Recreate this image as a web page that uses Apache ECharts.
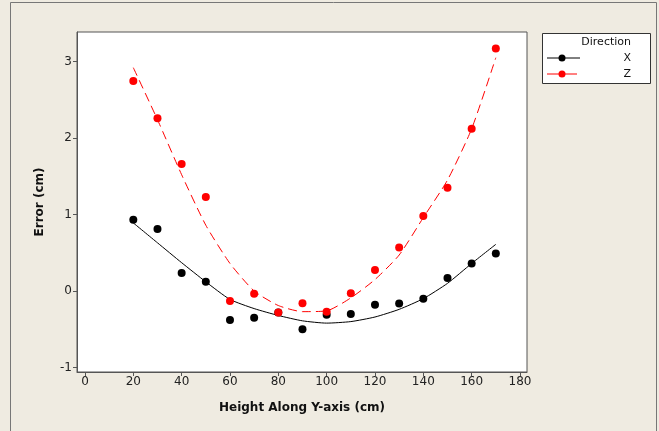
<!DOCTYPE html>
<html>
<head>
<meta charset="utf-8">
<script src="https://cdn.jsdelivr.net/npm/echarts@6/dist/echarts.min.js"></script>
<style>
html, body { margin: 0; padding: 0; background: #efebe1; }
#main { width: 659px; height: 431px; }
</style>
</head>
<body>
<div id="main"></div>
<script>
// heights along Y axis (cm)
var heights = [20, 30, 40, 50, 60, 70, 80, 90, 100, 110, 120, 130, 140, 150, 160, 170];
// measured error, direction X and Z
var errX = [0.93, 0.81, 0.235, 0.12, -0.38, -0.35, -0.28, -0.50, -0.31, -0.30, -0.18, -0.165, -0.10, 0.17, 0.36, 0.49];
var errZ = [2.745, 2.26, 1.66, 1.23, -0.13, -0.035, -0.28, -0.16, -0.27, -0.03, 0.275, 0.57, 0.98, 1.35, 2.12, 3.17];
// fitted lines
var fitX = [0.89, 0.63, 0.37, 0.12, -0.11, -0.23, -0.32, -0.39, -0.42, -0.40, -0.34, -0.24, -0.10, 0.10, 0.36, 0.61];
var fitZ = [2.92, 2.24, 1.52, 0.86, 0.36, 0.0, -0.19, -0.27, -0.26, -0.09, 0.15, 0.47, 0.96, 1.45, 2.12, 3.05];
// tick labels
var xTicks = [0, 20, 40, 60, 80, 100, 120, 140, 160, 180];
var yTicks = [-1, 0, 1, 2, 3];

function pairs(xs, ys) {
    return xs.map(function (x, i) { return [x, ys[i]]; });
}

var font = 'DejaVu Sans';

var option = {
    backgroundColor: '#efebe1',
    animation: false,
    grid: {
        left: 77, top: 32, right: 132, bottom: 59,
        show: true, backgroundColor: '#ffffff', borderColor: '#555555', borderWidth: 1
    },
    xAxis: {
        type: 'value', min: -3.3, max: 182.9,
        name: 'Height Along Y-axis (cm)', nameLocation: 'middle', nameGap: 30,
        nameTextStyle: { fontFamily: font, fontWeight: 'bold', fontSize: 12, color: '#111' },
        axisLine: { show: true, onZero: false, lineStyle: { color: '#555555' } },
        axisTick: { show: true, length: 4, customValues: xTicks, lineStyle: { color: '#555555' } },
        axisLabel: { customValues: xTicks, fontFamily: font, fontSize: 12, color: '#222', margin: 4 },
        splitLine: { show: false }
    },
    yAxis: {
        type: 'value', min: -1.059, max: 3.386,
        name: 'Error (cm)', nameLocation: 'middle', nameGap: 31, nameRotate: 90,
        nameTextStyle: { fontFamily: font, fontWeight: 'bold', fontSize: 12, color: '#111' },
        axisLine: { show: true, onZero: false, lineStyle: { color: '#555555' } },
        axisTick: { show: true, length: 4, customValues: yTicks, lineStyle: { color: '#555555' } },
        axisLabel: { customValues: yTicks, fontFamily: font, fontSize: 12, color: '#222', margin: 5 },
        splitLine: { show: false }
    },
    series: [
        {
            name: 'X fit', type: 'line', data: pairs(heights, fitX), showSymbol: false, smooth: 0.2,
            lineStyle: { color: '#000000', width: 1 }, z: 2
        },
        {
            name: 'Z fit', type: 'line', data: pairs(heights, fitZ), showSymbol: false, smooth: 0.2,
            lineStyle: { color: '#ff0000', width: 1, type: [9, 5] }, z: 2
        },
        {
            name: 'X', type: 'scatter', data: pairs(heights, errX), symbol: 'circle', symbolSize: 8,
            itemStyle: { color: '#000000', opacity: 1 }, z: 3
        },
        {
            name: 'Z', type: 'scatter', data: pairs(heights, errZ), symbol: 'circle', symbolSize: 8,
            itemStyle: { color: '#ff0000', opacity: 1 }, z: 4
        }
    ],
    graphic: [
        { type: 'rect', shape: { x: 10.5, y: 2.5, width: 646, height: 440 }, style: { fill: 'none', stroke: '#777777', lineWidth: 1 } },
        { type: 'rect', shape: { x: 542.5, y: 33.5, width: 108, height: 50 }, style: { fill: '#ffffff', stroke: '#333333', lineWidth: 1 } },
        { type: 'text', x: 631, y: 42, style: { text: 'Direction', font: '11px "DejaVu Sans"', fill: '#111', align: 'right', verticalAlign: 'middle' } },
        { type: 'line', shape: { x1: 547, y1: 58, x2: 580, y2: 58 }, style: { stroke: '#000000', lineWidth: 1 } },
        { type: 'circle', shape: { cx: 562, cy: 58, r: 3.5 }, style: { fill: '#000000' } },
        { type: 'text', x: 631, y: 58, style: { text: 'X', font: '11px "DejaVu Sans"', fill: '#111', align: 'right', verticalAlign: 'middle' } },
        { type: 'line', shape: { x1: 547, y1: 74, x2: 577, y2: 74 }, style: { stroke: '#ff0000', lineWidth: 1 } },
        { type: 'circle', shape: { cx: 562, cy: 74, r: 3.5 }, style: { fill: '#ff0000' } },
        { type: 'text', x: 631, y: 74, style: { text: 'Z', font: '11px "DejaVu Sans"', fill: '#111', align: 'right', verticalAlign: 'middle' } }
    ]
};

var myChart = echarts.init(document.getElementById('main'));
myChart.setOption(option);
</script>
</body>
</html>
